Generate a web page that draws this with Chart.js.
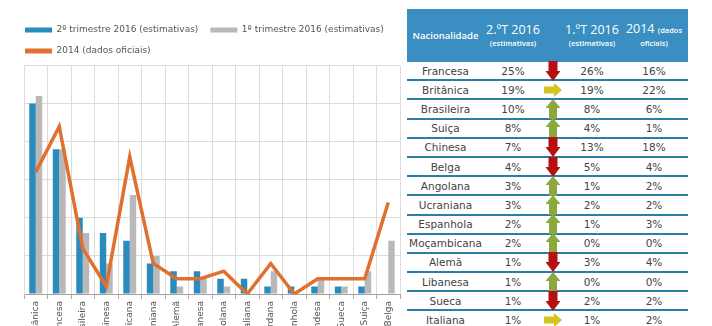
<!DOCTYPE html>
<html>
<head>
<meta charset="utf-8">
<script src="https://cdn.jsdelivr.net/npm/chart.js@4.4.0/dist/chart.umd.min.js"></script>
<style>
body{margin:0;background:#fff;width:712px;height:326px;overflow:hidden;position:relative;font-family:"DejaVu Sans",sans-serif;}
#chartBox{position:absolute;left:0;top:0;width:405px;height:326px;overflow:hidden;}
#tbl{position:absolute;left:407px;top:9px;width:281px;}
.hd{background:#3b8ec1;height:53px;display:flex;align-items:center;color:#fff;font-family:"Open Sans",sans-serif;font-weight:600;text-align:center;}
.hd .big{font-size:12.5px;line-height:14px;font-weight:400;}
.hd .sm{font-size:7.5px;line-height:12px;}
.row{height:17.2px;border-bottom:2px solid #2c7cac;display:flex;align-items:center;position:relative;color:#444;font-size:10.5px;text-align:center;}
.c1{width:77px}.c2{width:58px}.c3{width:22px;position:relative;height:100%}.c4{width:56px}.c5{width:68px}
.c3 svg{position:absolute;left:50%;top:50%;transform:translate(-50%,-50%);}
</style>
</head>
<body>
<div id="chartBox"><canvas id="myChart" width="405" height="326"></canvas></div>
<div id="tbl">
  <div class="hd">
    <div class="c1" style="font-size:9.5px">Nacionalidade</div>
    <div class="c2"><div class="big">2.ºT 2016</div><div class="sm">(estimativas)</div></div>
    <div class="c3"></div>
    <div class="c4"><div class="big">1.ºT 2016</div><div class="sm">(estimativas)</div></div>
    <div class="c5"><div class="big">2014 <span style="font-size:7.5px;font-weight:600">(dados</span></div><div class="sm">oficiais)</div></div>
  </div>
  <div id="rows"></div>
</div>
<script>
// chart data
var chartLabels = ['Britânica','Francesa','Brasileira','Chinesa','Moçambicana','Ucraniana','Alemã','Libanesa','Angolana','Italiana','Jordana','Espanhola','Holandesa','Sueca','Suiça','Belga'];
var chartQ2 = [25,19,10,8,7,4,3,3,2,2,1,1,1,1,1,0];
var chartQ1 = [26,19,8,4,13,5,1,2,1,0,3,0,2,1,3,7];
var chart2014 = [16,22,6,1,18,4,2,2,3,0,4,0,2,2,2,12];

// table data
var tabNames = ['Francesa','Britânica','Brasileira','Suiça','Chinesa','Belga','Angolana','Ucraniana','Espanhola','Moçambicana','Alemã','Libanesa','Sueca','Italiana'];
var tabQ2 = [25,19,10,8,7,4,3,3,2,2,1,1,1,1];
var tabQ1 = [26,19,8,4,13,5,1,2,1,0,3,0,2,1];
var tab2014 = [16,22,6,1,18,4,2,2,3,0,4,0,2,2];

function arrow(q2,q1){
	if(q2<q1) return '<svg width="15" height="20" viewBox="0 0 15 20"><path d="M3 0H12V10H15L7.5 20L0 10H3Z" fill="#b5100f"/></svg>';
	if(q2>q1) return '<svg width="15" height="20" viewBox="0 0 15 20"><path d="M3.5 20H11.5V9H15L7.5 0L0 9H3.5Z" fill="#8aa83e"/></svg>';
	return '<svg width="18" height="14" viewBox="0 0 18 14"><path d="M0 3.5H10V0L18 7L10 14V10.5H0Z" fill="#d6c41e"/></svg>';
}

var html = '';
for(let i=0;i<tabNames.length;i++){
	html += '<div class="row"><div class="c1">'+tabNames[i]+'</div><div class="c2">'+tabQ2[i]+'%</div>'
		+ '<div class="c3">'+arrow(tabQ2[i],tabQ1[i])+'</div><div class="c4">'+tabQ1[i]+'%</div><div class="c5">'+tab2014[i]+'%</div></div>';
}
document.getElementById('rows').innerHTML = html;

var baseLabels = Chart.defaults.plugins.legend.labels.generateLabels;

new Chart("myChart", {
  type: "bar",
  data: {
    labels: chartLabels,
    datasets: [{
      label: '2º trimestre 2016 (estimativas)',
      data: chartQ2,
      backgroundColor: '#2b8bbd',
      categoryPercentage: 0.55,
      barPercentage: 1
    }, {
      label: '1º trimestre 2016 (estimativas)',
      data: chartQ1,
      backgroundColor: '#b9b9b9',
      categoryPercentage: 0.55,
      barPercentage: 1
    }, {
      type: 'line',
      label: '2014 (dados oficiais)',
      data: chart2014,
      borderColor: '#e0702e',
      backgroundColor: '#e0702e',
      borderWidth: 3.5,
      pointRadius: 0,
      tension: 0,
      order: -1
    }]
  },
  options: {
    responsive: false,
    animation: false,
    layout: {padding: {top: 13.5, left: 13, right: 5, bottom: 0}},
    plugins: {
      tooltip: {enabled: false},
      legend: {
        align: 'start',
        labels: {
          boxWidth: 27,
          boxHeight: 5,
          padding: 12,
          color: '#555',
          font: {family: 'DejaVu Sans', size: 9},
          generateLabels: function(chart){
            return baseLabels(chart).map(function(l){ l.lineWidth = 0; return l; });
          },
          sort: function(a,b){ return a.datasetIndex - b.datasetIndex; }
        }
      }
    },
    scales: {
      x: {
        grid: {color: '#dcdcdc', offset: true, tickLength: 5, tickColor: '#aaa'},
        border: {color: '#a0a0a0'},
        ticks: {minRotation: 90, maxRotation: 90, autoSkip: false, color: '#555', padding: 2,
          font: {family: 'DejaVu Sans', size: 9}},
        afterFit: function(s){ s.height = 32; }
      },
      y: {
        min: 0, max: 30,
        ticks: {display: false, stepSize: 5},
        grid: {color: '#dcdcdc', drawTicks: false},
        border: {color: '#dcdcdc'},
        afterFit: function(s){ s.width = 11; }
      }
    }
  }
});
</script>
</body>
</html>
